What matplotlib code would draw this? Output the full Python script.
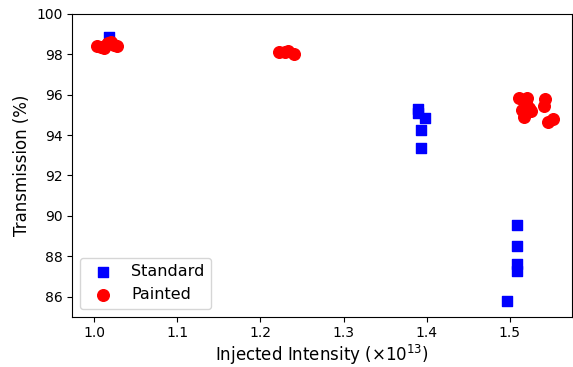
import numpy as np
from matplotlib import pyplot as plt

# Standard samples
std_x = [1.018, 1.389, 1.390, 1.398, 1.393, 1.393, 1.508, 1.508, 1.509, 1.508, 1.497]
std_y = [98.85, 95.3, 95.1, 94.85, 94.25, 93.35, 89.55, 88.5, 87.6, 87.25, 85.8]

# Painted samples
pnt_x = [1.003, 1.008, 1.012, 1.015, 1.020, 1.024, 1.028, 1.017,
         1.222, 1.229, 1.233, 1.240,
         1.511, 1.520, 1.519, 1.514, 1.523, 1.517, 1.525, 1.542, 1.541, 1.546, 1.552]
pnt_y = [98.4, 98.35, 98.3, 98.5, 98.6, 98.45, 98.4, 98.55,
         98.1, 98.12, 98.15, 98.0,
         95.85, 95.85, 95.6, 95.25, 95.35, 94.9, 95.2, 95.8, 95.45, 94.65, 94.8]

fig = plt.figure(figsize=(5.73, 3.67), dpi=100)
ax = fig.add_axes([0.126, 0.137, 0.872, 0.825])

ax.scatter(std_x, std_y, marker="s", s=60, c="blue", label="Standard", zorder=2)
ax.scatter(pnt_x, pnt_y, marker="o", s=70, c="red", label="Painted", zorder=3)

ax.set_xlim(0.9736, 1.5745)
ax.set_ylim(85, 100)
ax.set_yticks(np.arange(86, 101, 2))
ax.set_xlabel(r"Injected Intensity ($\times 10^{13}$)", fontsize=12, labelpad=2)
ax.set_ylabel("Transmission (%)", fontsize=12)
ax.legend(loc="lower left", fontsize=11.5)

fig.savefig("out.png", dpi=100)
